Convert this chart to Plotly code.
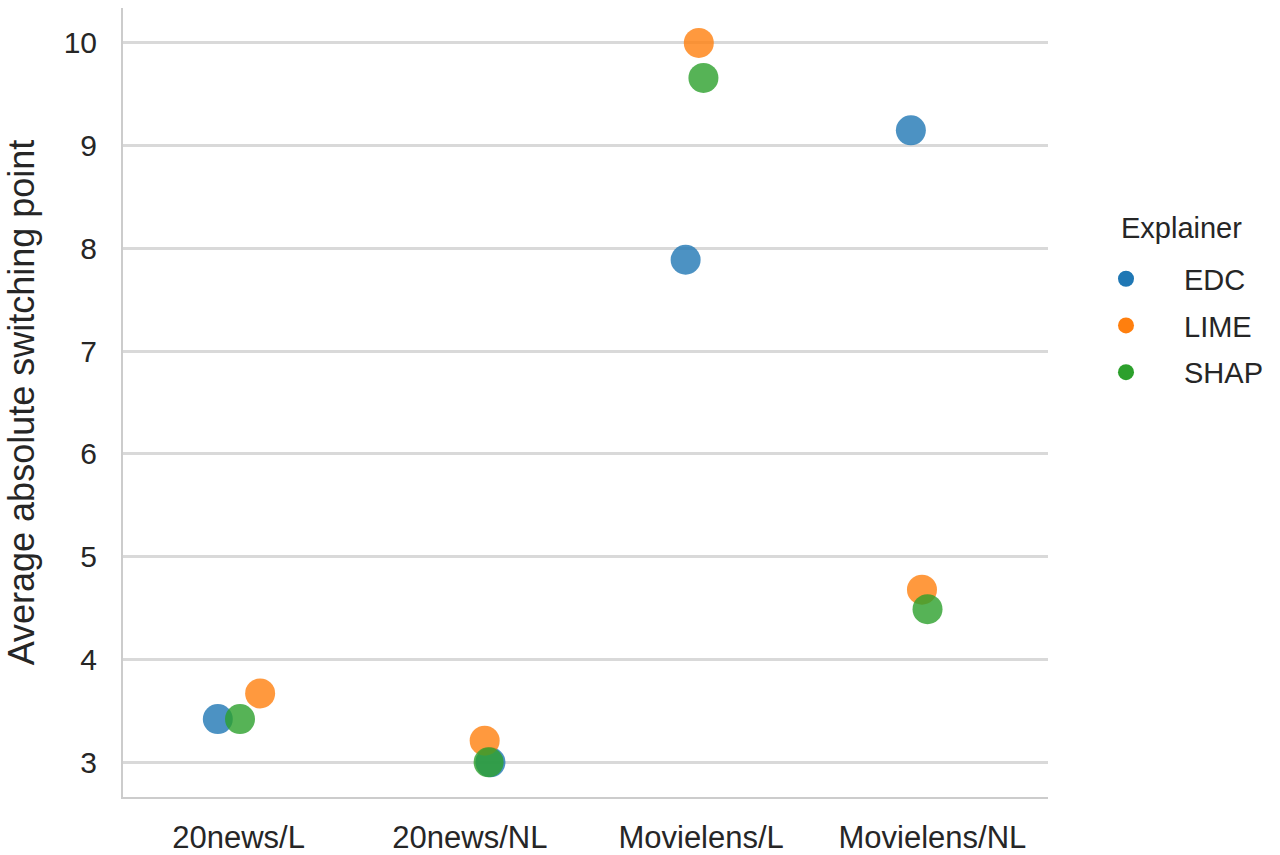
import plotly.graph_objects as go

# Datasets (x categories) and mean absolute switching point per explainer
categories = ["20news/L", "20news/NL", "Movielens/L", "Movielens/NL"]
edc = [3.42, 3.00, 7.89, 9.15]
lime = [3.67, 3.21, 10.00, 4.68]
shap = [3.42, 3.00, 9.66, 4.49]

# Strip-plot jitter (fraction of a category slot) for each point
edc_jitter = [-0.090, 0.089, -0.067, -0.093]
lime_jitter = [0.093, 0.064, -0.010, -0.045]
shap_jitter = [0.006, 0.081, 0.010, -0.021]

y_ticks = [3, 4, 5, 6, 7, 8, 9, 10]

series = [
    ("EDC", edc, edc_jitter, "#1f77b4"),
    ("LIME", lime, lime_jitter, "#ff7f0e"),
    ("SHAP", shap, shap_jitter, "#2ca02c"),
]

FONT = "Liberation Sans, Arial, Helvetica, sans-serif"
TEXT = "#262626"
AXIS = "#cccccc"

fig = go.Figure()

for name, vals, jit, color in series:
    xs = [i + j for i, j in enumerate(jit)]
    fig.add_trace(go.Scatter(
        x=xs, y=vals, mode="markers", name=name,
        marker=dict(size=30, color=color, opacity=0.8, line=dict(width=0)),
        showlegend=False, hoverinfo="x+y+name",
    ))

# Legend entries with small solid dots
for name, vals, jit, color in series:
    fig.add_trace(go.Scatter(
        x=[None], y=[None], mode="markers", name=name,
        marker=dict(size=17, color=color),
        legendgroup=name, showlegend=True,
    ))

fig.update_layout(
    width=1280, height=855,
    margin=dict(l=123, r=232, t=8, b=58, autoexpand=False),
    paper_bgcolor="white", plot_bgcolor="white",
    font=dict(family=FONT, color=TEXT, size=29),
    showlegend=True,
    legend=dict(
        font=dict(size=29, color=TEXT),
        x=(1068 - 123) / 925, xanchor="left", y=0.689, yanchor="top",
        itemwidth=106, tracegroupgap=6,
        bgcolor="rgba(0,0,0,0)",
    ),
    annotations=[dict(
        text="Explainer", xref="paper", yref="paper",
        x=(1119 - 123) / 925, y=0.7212, xanchor="left", yanchor="middle",
        showarrow=False, font=dict(size=29, color=TEXT),
    )],
    xaxis=dict(
        range=[-0.5, 3.5], automargin=False,
        tickvals=list(range(len(categories))), ticktext=categories,
        showgrid=False, zeroline=False,
        showline=True, linecolor=AXIS, linewidth=2,
        ticks="", ticklabelstandoff=12,
        tickfont=dict(size=31, color=TEXT),
    ),
    yaxis=dict(
        range=[2.662, 10.34], automargin=False,
        tickvals=y_ticks,
        showgrid=True, gridcolor="#d9d9d9", gridwidth=2.5,
        zeroline=False,
        showline=True, linecolor=AXIS, linewidth=2,
        ticks="", ticklabelstandoff=18,
        tickfont=dict(size=30, color=TEXT),
        title=dict(text="Average absolute switching point", font=dict(size=36, color=TEXT), standoff=18),
    ),
)

fig.write_html("out.html")
